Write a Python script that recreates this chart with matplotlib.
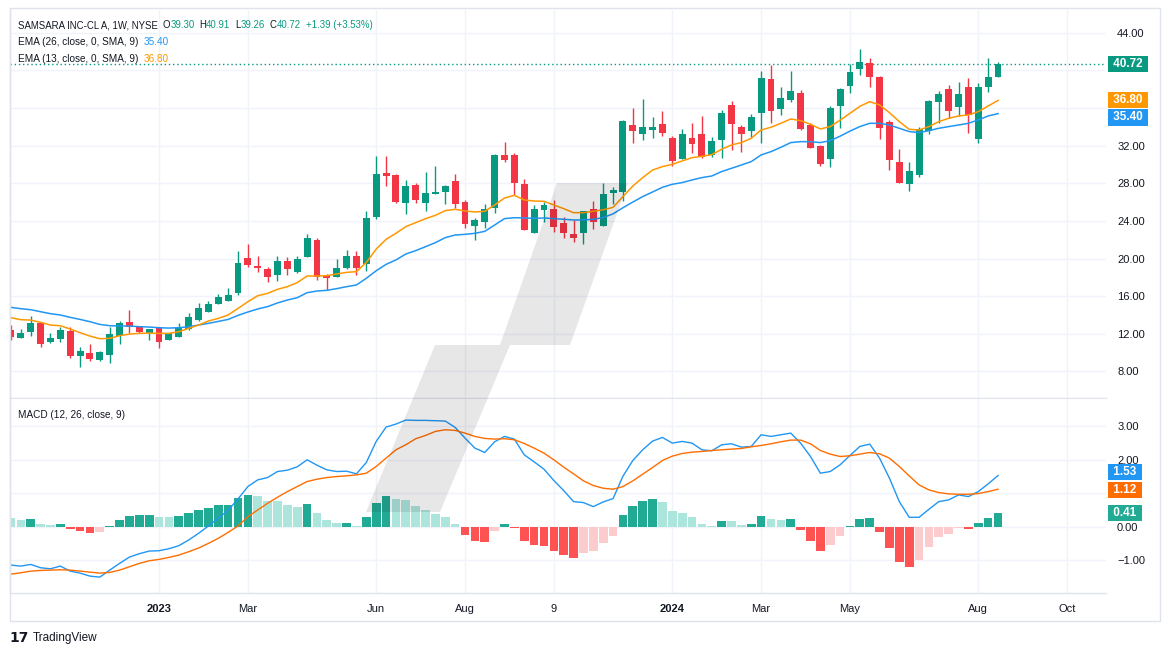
"""
plot.py
Weekly candlestick chart of Samsara with EMA 13/26 and MACD panel
"""

import numpy as np
import matplotlib.pyplot as plt
from matplotlib.patches import Polygon, Rectangle
from matplotlib.transforms import blended_transform_factory
from matplotlib.ticker import FuncFormatter

# -------------------------------------------------
# Data (weekly bars, Sep 2022 - Aug 2024)
# -------------------------------------------------

opens = [12.40, 11.59, 12.22, 13.15, 11.13, 11.48, 12.29, 9.67, 9.96, 9.25,
         9.78, 11.80, 13.25, 12.72, 12.08, 12.61, 11.37, 11.69, 12.54, 13.50,
         14.35, 15.20, 15.52, 16.37, 20.05, 19.21, 18.89, 18.25, 19.74, 18.57,
         20.20, 21.97, 18.25, 18.07, 19.03, 20.27, 19.45, 24.45, 29.09, 28.88,
         25.94, 27.82, 25.94, 26.90, 27.11, 28.24, 26.01, 23.49, 23.92, 25.41,
         31.00, 31.00, 27.92, 22.75, 25.20, 25.27, 23.78, 22.64, 22.75, 25.27,
         23.49, 27.00, 27.07, 34.19, 33.27, 33.70, 34.30, 32.81, 30.58, 32.81,
         33.24, 31.00, 32.60, 36.32, 33.98, 33.55, 35.46, 39.08, 35.89, 36.84,
         37.59, 34.19, 31.96, 30.57, 36.21, 38.33, 40.14, 40.78, 39.29, 34.51,
         30.26, 27.92, 28.87, 33.55, 36.63, 38.01, 36.10, 38.23, 32.70, 38.23,
         39.30]
highs = [12.93, 12.51, 13.89, 13.20, 12.08, 12.76, 12.69, 10.59, 10.91, 10.17,
         12.76, 13.36, 14.53, 12.83, 12.51, 12.65, 12.08, 13.15, 14.21, 15.27,
         15.48, 16.23, 16.86, 20.80, 21.54, 20.27, 19.10, 20.27, 20.16, 20.27,
         22.61, 22.18, 18.36, 19.95, 20.91, 20.80, 25.05, 30.90, 30.90, 28.99,
         28.35, 28.03, 29.20, 29.84, 27.82, 28.99, 26.22, 24.31, 25.80, 31.11,
         32.42, 31.22, 28.45, 25.69, 26.01, 26.22, 24.42, 24.10, 25.05, 26.12,
         28.03, 27.64, 34.72, 36.00, 36.96, 35.04, 35.68, 33.02, 33.77, 34.40,
         35.15, 32.92, 35.79, 36.74, 34.19, 35.36, 39.93, 40.56, 38.23, 39.93,
         37.91, 34.40, 32.06, 36.21, 38.12, 40.67, 42.26, 41.31, 39.39, 34.72,
         31.64, 30.26, 33.97, 36.84, 37.80, 38.44, 38.76, 39.18, 38.65, 41.31,
         40.91]
lows = [11.34, 11.55, 11.80, 10.63, 11.02, 11.16, 9.46, 8.51, 9.14, 9.14,
        8.93, 10.95, 12.12, 12.12, 11.34, 10.52, 11.37, 11.69, 12.40, 13.39,
        14.35, 15.20, 15.52, 16.16, 19.13, 18.61, 17.54, 17.65, 18.29, 18.46,
        20.20, 17.75, 16.69, 18.07, 18.92, 18.29, 18.71, 24.24, 27.71, 25.95,
        24.77, 25.94, 25.09, 26.90, 25.83, 25.34, 23.28, 22.01, 23.28, 24.88,
        30.30, 26.79, 23.07, 22.75, 23.92, 22.86, 22.22, 21.79, 21.58, 23.18,
        23.49, 25.83, 26.15, 32.28, 32.60, 32.81, 33.02, 29.84, 30.58, 31.22,
        30.69, 30.79, 30.69, 31.54, 31.32, 32.91, 32.27, 34.40, 35.25, 36.63,
        33.66, 31.70, 29.83, 29.72, 33.87, 37.59, 39.50, 38.23, 32.70, 29.40,
        27.98, 27.17, 28.66, 33.23, 34.40, 34.93, 35.14, 33.34, 32.27, 37.69,
        39.26]
closes = [11.69, 12.08, 13.15, 10.95, 11.55, 12.40, 9.67, 10.17, 9.35, 10.06,
          11.97, 13.15, 12.72, 12.22, 12.51, 11.16, 12.08, 12.61, 13.78, 14.74,
          15.16, 15.91, 16.12, 19.52, 19.31, 19.03, 18.07, 19.74, 18.89, 19.95,
          22.18, 18.07, 17.97, 18.99, 20.27, 19.03, 24.31, 28.99, 28.81, 26.01,
          27.71, 26.26, 26.97, 27.07, 27.71, 25.83, 23.71, 24.10, 25.27, 31.00,
          30.47, 28.03, 23.07, 25.27, 25.69, 23.39, 22.75, 22.22, 25.05, 23.92,
          26.86, 27.28, 34.62, 33.59, 33.98, 33.98, 33.38, 30.37, 33.24, 32.21,
          30.79, 32.49, 35.47, 34.30, 33.24, 35.04, 39.18, 35.67, 37.06, 37.80,
          33.76, 31.74, 30.04, 35.99, 38.01, 39.82, 40.88, 39.29, 33.87, 30.47,
          28.02, 29.30, 33.76, 36.74, 37.48, 35.67, 37.48, 35.25, 38.23, 39.29,
          40.72]

ema26 = [14.81, 14.67, 14.56, 14.35, 14.14, 14.00, 13.75, 13.53, 13.29, 13.00,
         12.86, 12.83, 12.83, 12.76, 12.72, 12.65, 12.61, 12.65, 12.76, 12.93,
         13.11, 13.32, 13.53, 13.96, 14.32, 14.64, 14.89, 15.28, 15.59, 15.84,
         16.37, 16.55, 16.62, 16.80, 17.01, 17.19, 17.90, 18.70, 19.38, 19.85,
         20.48, 20.84, 21.26, 21.69, 22.22, 22.50, 22.57, 22.68, 22.89, 23.56,
         24.24, 24.34, 24.31, 24.27, 24.31, 24.24, 24.17, 24.10, 24.10, 24.17,
         24.35, 24.75, 25.40, 26.00, 26.58, 27.07, 27.57, 27.89, 28.07, 28.35,
         28.60, 28.77, 29.24, 29.59, 29.94, 30.30, 31.01, 31.36, 31.82, 32.32,
         32.42, 32.42, 32.32, 32.53, 33.00, 33.54, 34.02, 34.37, 34.37, 34.19,
         33.84, 33.49, 33.38, 33.59, 33.84, 34.02, 34.19, 34.37, 34.73, 35.15,
         35.40]
ema13 = [13.71, 13.50, 13.46, 13.22, 12.93, 12.86, 12.51, 12.12, 11.76, 11.48,
         11.52, 11.80, 11.97, 12.05, 12.08, 12.05, 12.05, 12.22, 12.58, 12.93,
         13.36, 13.64, 14.00, 14.70, 15.41, 16.05, 16.30, 16.73, 17.01, 17.44,
         18.14, 18.14, 18.18, 18.36, 18.53, 18.61, 19.58, 21.00, 22.04, 22.68,
         23.39, 23.81, 24.24, 24.59, 25.09, 25.23, 25.05, 24.95, 25.02, 25.69,
         26.43, 26.72, 26.22, 26.11, 26.08, 25.69, 25.30, 24.87, 24.87, 25.02,
         25.18, 25.44, 26.58, 27.70, 28.60, 29.40, 29.77, 30.01, 30.37, 30.72,
         30.86, 31.04, 31.61, 32.07, 32.32, 32.78, 33.66, 33.95, 34.37, 34.83,
         34.65, 34.27, 33.77, 34.02, 34.70, 35.43, 36.17, 36.67, 36.32, 35.50,
         34.55, 33.73, 33.66, 34.02, 34.55, 34.90, 35.15, 35.26, 35.61, 36.21,
         36.80]

macd_line = [-1.15, -1.18, -1.13, -1.23, -1.26, -1.18, -1.33, -1.39, -1.48, -1.51,
             -1.30, -1.10, -0.91, -0.81, -0.73, -0.72, -0.66, -0.57, -0.40, -0.20,
             0.02, 0.25, 0.49, 0.83, 1.20, 1.40, 1.47, 1.65, 1.69, 1.79,
             2.00, 1.84, 1.70, 1.65, 1.66, 1.58, 1.92, 2.55, 2.98, 3.07,
             3.19, 3.18, 3.18, 3.17, 3.16, 2.97, 2.65, 2.35, 2.22, 2.54,
             2.70, 2.62, 2.15, 1.94, 1.72, 1.38, 1.08, 0.75, 0.72, 0.60,
             0.74, 0.84, 1.51, 1.98, 2.30, 2.56, 2.67, 2.50, 2.55, 2.50,
             2.30, 2.27, 2.45, 2.48, 2.38, 2.40, 2.75, 2.70, 2.75, 2.80,
             2.50, 2.10, 1.60, 1.65, 1.85, 2.13, 2.40, 2.47, 2.05, 1.45,
             0.75, 0.28, 0.28, 0.52, 0.75, 0.80, 0.95, 0.90, 1.05, 1.28,
             1.53]
signal_line = [-1.42, -1.38, -1.33, -1.31, -1.30, -1.29, -1.30, -1.33, -1.36, -1.39,
               -1.37, -1.30, -1.20, -1.10, -1.02, -0.98, -0.92, -0.85, -0.75, -0.64,
               -0.50, -0.35, -0.17, 0.02, 0.30, 0.50, 0.70, 0.88, 1.05, 1.20,
               1.35, 1.42, 1.47, 1.50, 1.52, 1.55, 1.60, 1.80, 2.05, 2.30,
               2.45, 2.63, 2.73, 2.85, 2.90, 2.88, 2.80, 2.70, 2.64, 2.62,
               2.63, 2.60, 2.49, 2.35, 2.20, 2.00, 1.78, 1.58, 1.37, 1.23,
               1.15, 1.12, 1.20, 1.37, 1.57, 1.77, 1.98, 2.11, 2.19, 2.23,
               2.25, 2.28, 2.30, 2.32, 2.34, 2.39, 2.43, 2.48, 2.54, 2.59,
               2.59, 2.48, 2.28, 2.17, 2.10, 2.12, 2.17, 2.22, 2.18, 2.05,
               1.80, 1.52, 1.25, 1.10, 1.02, 0.98, 0.97, 0.97, 0.99, 1.05,
               1.12]
macd_hist = [0.27, 0.21, 0.22, 0.08, 0.05, 0.08, -0.06, -0.12, -0.18, -0.15,
             0.02, 0.21, 0.32, 0.35, 0.35, 0.29, 0.28, 0.32, 0.41, 0.50,
             0.56, 0.65, 0.66, 0.86, 0.95, 0.92, 0.77, 0.76, 0.65, 0.59,
             0.68, 0.41, 0.20, 0.11, 0.12, 0.02, 0.29, 0.71, 0.92, 0.83,
             0.80, 0.62, 0.50, 0.38, 0.29, 0.08, -0.25, -0.43, -0.46, -0.13,
             0.08, -0.04, -0.43, -0.55, -0.58, -0.73, -0.85, -0.94, -0.79, -0.73,
             -0.49, -0.28, 0.35, 0.62, 0.77, 0.83, 0.74, 0.47, 0.41, 0.29,
             0.08, 0.02, 0.17, 0.16, 0.05, 0.08, 0.32, 0.23, 0.20, 0.23,
             -0.10, -0.43, -0.73, -0.55, -0.28, 0.02, 0.23, 0.26, -0.16, -0.64,
             -1.06, -1.21, -0.99, -0.61, -0.31, -0.22, -0.04, -0.07, 0.11, 0.26,
             0.41]

# x-axis: bar index of the first bar of each labelled month
tick_bars = [15, 24, 37, 46, 55, 67, 76, 85, 98, 107]
tick_labels = ["2023", "Mar", "Jun", "Aug", "9", "2024", "Mar", "May", "Aug", "Oct"]
price_ticks = [8, 12, 16, 20, 24, 28, 32, 36, 40, 44]
macd_ticks = [-1, 0, 1, 2, 3]

# -------------------------------------------------
# Style
# -------------------------------------------------

plt.rcParams["font.family"] = ["Liberation Sans", "DejaVu Sans"]

UP = "#089981"
DOWN = "#F23645"
TXT = "#131722"
GRID = "#F0F3FA"
BORDER = "#E0E3EB"
EMA_SLOW = "#2196F3"
EMA_FAST = "#FF9800"
MACD_C = "#2196F3"
SIG_C = "#FF6D00"
H_UP_STRONG = "#22AB94"
H_UP_WEAK = "#ACE5DC"
H_DN_STRONG = "#FF5252"
H_DN_WEAK = "#FCCBCD"

W, H = 1171, 657


def fx(px):
    return px / W


def fy(py):
    return 1 - py / H


fig = plt.figure(figsize=(W / 100, H / 100), dpi=100)
fig.patch.set_facecolor("white")

ax = fig.add_axes([fx(10), fy(398), fx(1106) - fx(10), fy(10) - fy(398)])
ax2 = fig.add_axes([fx(10), fy(593), fx(1106) - fx(10), fy(399) - fy(593)], sharex=ax)

idx = np.arange(len(closes))
o = np.array(opens)
c = np.array(closes)
hi = np.array(highs)
lo = np.array(lows)
hist = np.array(macd_hist)

# -------------------------------------------------
# Price pane
# -------------------------------------------------

col = np.where(c >= o, UP, DOWN)
ax.vlines(idx, lo, hi, colors=col, linewidth=1.0, zorder=3)
ax.bar(idx, np.maximum(np.abs(c - o), 0.08), 0.7, bottom=np.minimum(o, c),
       color=col, linewidth=0, zorder=4)

ax.plot(idx, ema26, color=EMA_SLOW, linewidth=1.1, zorder=5)
ax.plot(idx, ema13, color=EMA_FAST, linewidth=1.1, zorder=5)
ax.axhline(c[-1], color=UP, linewidth=1, linestyle=(0, (1, 2)), zorder=2)

ax.set_xlim(-0.1, 110.94)
ax.set_ylim(5.18, 46.41)


def scale_fmt(marks, near):
    # tick labels hidden behind the last-value boxes are left out
    def f(v, pos):
        if any(abs(v - m) < near for m in marks):
            return ""
        return f"{v:.2f}".replace("-", "\u2212")
    return FuncFormatter(f)


ax.set_yticks(price_ticks)
ax.yaxis.set_major_formatter(scale_fmt([c[-1], ema13[-1], ema26[-1]], 1.0))
ax.yaxis.tick_right()
ax.tick_params(axis="y", length=0, pad=8, labelsize=8, labelcolor=TXT)
ax.tick_params(axis="x", length=0, labelbottom=False)
ax.grid(True, color=GRID, linewidth=1, zorder=0)
ax.set_axisbelow(True)

# -------------------------------------------------
# MACD pane
# -------------------------------------------------

prev = np.r_[np.inf, hist[:-1]]
hcol = np.where(hist >= 0,
                np.where(hist >= prev, H_UP_STRONG, H_UP_WEAK),
                np.where(hist < prev, H_DN_STRONG, H_DN_WEAK))
ax2.bar(idx, hist, 0.88, color=hcol, linewidth=0, zorder=2)
ax2.plot(idx, macd_line, color=MACD_C, linewidth=1.0, zorder=3)
ax2.plot(idx, signal_line, color=SIG_C, linewidth=1.0, zorder=3)

ax2.set_ylim(-1.985, 3.82)
ax2.set_yticks(macd_ticks)
ax2.yaxis.set_major_formatter(scale_fmt([macd_line[-1], signal_line[-1], hist[-1]], 0.3))
ax2.yaxis.tick_right()
ax2.tick_params(axis="y", length=0, pad=8, labelsize=8, labelcolor=TXT)
ax2.set_xticks(tick_bars)
ax2.set_xticklabels(tick_labels)
ax2.tick_params(axis="x", length=0, pad=8, labelsize=8, labelcolor=TXT)
for lab in ax2.get_xticklabels():
    if lab.get_text() in ("2023", "2024"):
        lab.set_fontweight("bold")
ax2.grid(True, color=GRID, linewidth=1, zorder=0)
ax2.set_axisbelow(True)

for a in (ax, ax2):
    for s in a.spines.values():
        s.set_color(BORDER)
        s.set_linewidth(1)
    a.spines["top"].set_visible(False)
    a.spines["right"].set_visible(False)

# outer frame
fig.patches.append(Rectangle((fx(10), fy(621)), fx(1160) - fx(10), fy(8) - fy(621),
                             transform=fig.transFigure, fill=False,
                             edgecolor=BORDER, linewidth=1, zorder=0))

# -------------------------------------------------
# Last value labels on the scale
# -------------------------------------------------


def scale_label(a, value, text, color, dy=0):
    tr = blended_transform_factory(a.transAxes, a.transData)
    a.annotate(" " + text + " ", xy=(1, value), xycoords=tr, xytext=(3, dy),
               textcoords="offset points", ha="left", va="center",
               color="white", fontsize=8.5, fontweight="bold",
               bbox=dict(boxstyle="square,pad=0.17", fc=color, ec="none"),
               annotation_clip=False, zorder=10)


scale_label(ax, c[-1], f"{c[-1]:.2f}", UP)
scale_label(ax, ema13[-1], f"{ema13[-1]:.2f}", EMA_FAST, dy=0.3)
scale_label(ax, ema26[-1], f"{ema26[-1]:.2f}", EMA_SLOW, dy=-2.8)
scale_label(ax2, macd_line[-1], f"{macd_line[-1]:.2f}", MACD_C, dy=2.2)
scale_label(ax2, signal_line[-1], f"{signal_line[-1]:.2f}", SIG_C, dy=-0.2)
scale_label(ax2, hist[-1], f"{hist[-1]:.2f}", H_UP_STRONG)

# -------------------------------------------------
# Legends (header rows)
# -------------------------------------------------

LEG_FS = 7.2


def legend_row(y_px, parts, size=LEG_FS):
    first_txt, first_col, _ = parts[0]
    t = fig.text(fx(18), fy(y_px), first_txt, color=first_col,
                 fontsize=size, ha="left", va="center")
    for s, clr, gap in parts[1:]:
        t = ax.annotate(s, xy=(1, 0), xycoords=t, xytext=(gap, 0),
                        textcoords="offset points", ha="left", va="bottom",
                        color=clr, fontsize=size, annotation_clip=False)


legend_row(25, [("SAMSARA INC-CL A, 1W, NYSE", TXT, 0),
                ("O", TXT, 3.5), ("39.30", UP, 0),
                ("H", TXT, 3.5), ("40.91", UP, 0),
                ("L", TXT, 3.5), ("39.26", UP, 0),
                ("C", TXT, 3.5), ("40.72", UP, 0),
                ("+1.39 (+3.53%)", UP, 3.5)], size=6.9)
legend_row(42, [("EMA (26, close, 0, SMA, 9)", TXT, 0),
                (f"{ema26[-1]:.2f}", EMA_SLOW, 4)])
legend_row(59, [("EMA (13, close, 0, SMA, 9)", TXT, 0),
                (f"{ema13[-1]:.2f}", EMA_FAST, 4)])
legend_row(415, [("MACD (12, 26, close, 9)", TXT, 0),
                 (f"{hist[-1]:.2f}", H_UP_STRONG, 4),
                 (f"{macd_line[-1]:.2f}", MACD_C, 3),
                 (f"{signal_line[-1]:.2f}", SIG_C, 3)])

# -------------------------------------------------
# Watermark and footer logo
# -------------------------------------------------

wm_px = [(557, 183), (628, 183), (570, 345), (510, 345), (440, 512),
         (366, 512), (435, 345), (500, 345)]
wm = Polygon([(fx(x), fy(y)) for x, y in wm_px], closed=True,
             transform=fig.transFigure, facecolor="black", edgecolor="none",
             alpha=0.095, zorder=20)
fig.patches.append(wm)

fig.text(fx(9), fy(638), "17", fontsize=10, fontweight="bold", color=TXT,
         ha="left", va="center", family="DejaVu Sans")
fig.text(fx(33), fy(638), "TradingView", fontsize=8.5, color=TXT,
         ha="left", va="center")

plt.savefig("out.png", dpi=100)
plt.close()
